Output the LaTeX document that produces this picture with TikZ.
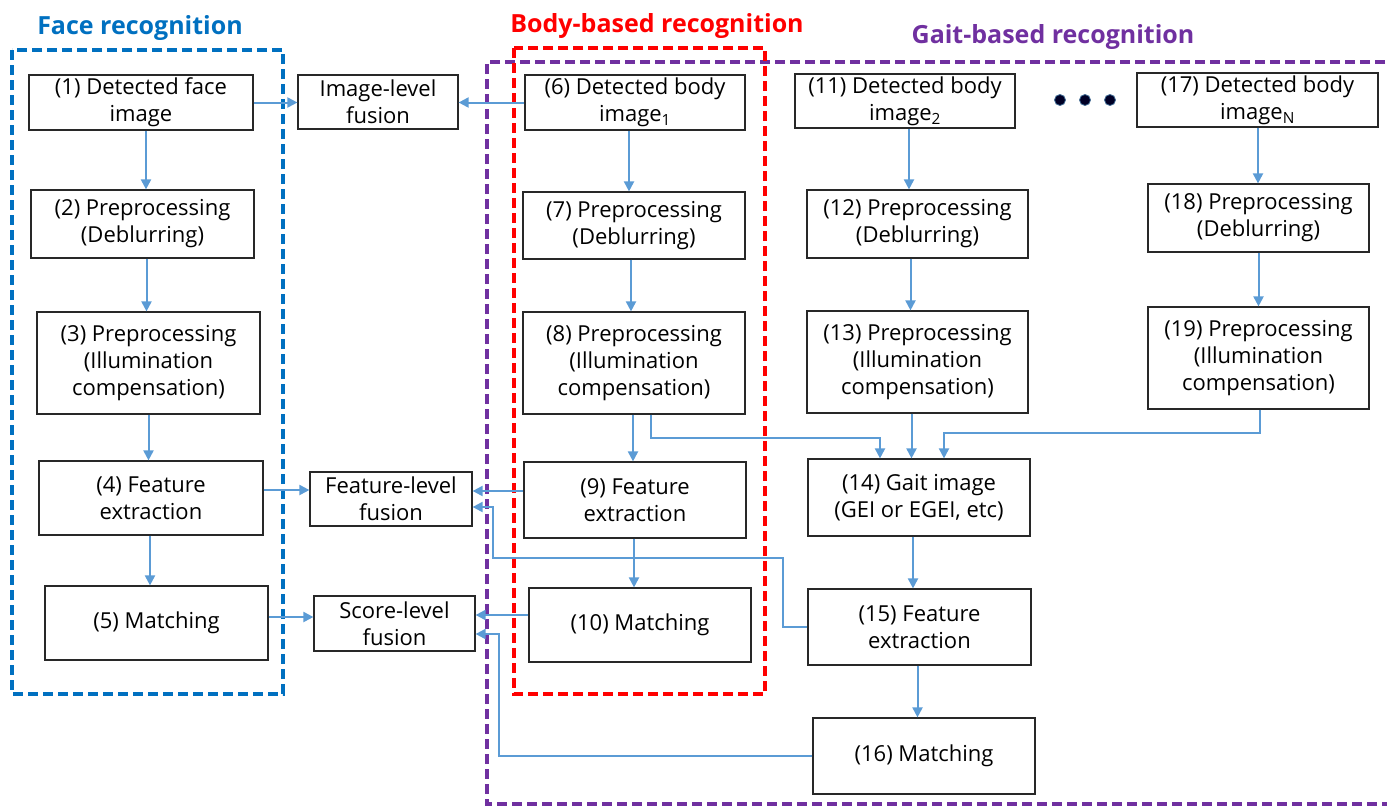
\documentclass[tikz,border=0pt]{standalone}
\usepackage{fontspec}
\setmainfont{Open Sans}
\usetikzlibrary{arrows.meta}
\definecolor{arrc}{RGB}{91,155,213}
\definecolor{facec}{RGB}{0,112,192}
\definecolor{bodyc}{RGB}{255,0,0}
\definecolor{gaitc}{RGB}{112,48,160}
\definecolor{boxc}{RGB}{40,40,40}
\begin{document}
\begin{tikzpicture}[x=1pt,y=-1pt,
  blk/.style={draw=boxc,line width=1.2pt,fill=white,align=center,inner sep=0pt,
    font=\fontsize{22}{27}\selectfont},
  arr/.style={draw=arrc,line width=2pt,-{Triangle[length=10pt,width=10pt]}},
  frame/.style={line width=3.5pt,dash pattern=on 10pt off 5pt},
  ttl/.style={font=\fontsize{25}{30}\selectfont\bfseries}]
\useasboundingbox (0,0) rectangle (1387,807);
% frames
\draw[frame,draw=facec] (12,50) rectangle (283,694);
\draw[frame,draw=gaitc] (1400,62) -- (487,62) -- (487,804) -- (1400,804);
\draw[frame,draw=bodyc] (514,48) rectangle (765,694);
% titles
\node[ttl,text=facec] (tface) at (140,28) {Face recognition};
\node[ttl,text=bodyc] (tbody) at (657,26) {Body-based recognition};
\node[ttl,text=gaitc] (tgait) at (1053,37) {Gait-based recognition};
% boxes
\node[blk,minimum width=224,minimum height=55] (b1) at (141,102.5) {(1) Detected face\\image};
\node[blk,minimum width=160,minimum height=54] (il) at (378,102) {Image-level\\fusion};
\node[blk,minimum width=220,minimum height=55] (b6) at (635,102.5) {(6) Detected body\\image\textsubscript{1}};
\node[blk,minimum width=220,minimum height=54] (b11) at (905,101) {(11) Detected body\\image\textsubscript{2}};
\node[blk,minimum width=241,minimum height=54] (b17) at (1257.5,100) {(17) Detected body\\image\textsubscript{N}};
\node[blk,minimum width=223,minimum height=68] (b2) at (142.5,224) {(2) Preprocessing\\(Deblurring)};
\node[blk,minimum width=222,minimum height=67] (b7) at (634,225.5) {(7) Preprocessing\\(Deblurring)};
\node[blk,minimum width=221,minimum height=68] (b12) at (917.5,224) {(12) Preprocessing\\(Deblurring)};
\node[blk,minimum width=221,minimum height=68] (b18) at (1258.5,218) {(18) Preprocessing\\(Deblurring)};
\node[blk,minimum width=223,minimum height=102] (b3) at (148.5,363) {(3) Preprocessing\\(Illumination\\compensation)};
\node[blk,minimum width=222,minimum height=102] (b8) at (634,363) {(8) Preprocessing\\(Illumination\\compensation)};
\node[blk,minimum width=221,minimum height=102] (b13) at (917.5,362) {(13) Preprocessing\\(Illumination\\compensation)};
\node[blk,minimum width=221,minimum height=102] (b19) at (1258.5,358) {(19) Preprocessing\\(Illumination\\compensation)};
\node[blk,minimum width=224,minimum height=74] (b4) at (151,498) {(4) Feature\\extraction};
\node[blk,minimum width=162,minimum height=54] (fl) at (391,499) {Feature-level\\fusion};
\node[blk,minimum width=222,minimum height=76] (b9) at (635,500) {(9) Feature\\extraction};
\node[blk,minimum width=222,minimum height=77] (b14) at (919,497.5) {(14) Gait image\\(GEI or EGEI, etc)};
\node[blk,minimum width=223,minimum height=74] (b5) at (156.5,623) {(5) Matching};
\node[blk,minimum width=161,minimum height=55] (sl) at (394.5,623.5) {Score-level\\fusion};
\node[blk,minimum width=222,minimum height=74] (b10) at (640,625) {(10) Matching};
\node[blk,minimum width=223,minimum height=76] (b15) at (919.5,627) {(15) Feature\\extraction};
\node[blk,minimum width=222,minimum height=76] (b16) at (924,756) {(16) Matching};
% dots
\foreach \i/\xx in {1/1060,2/1085,3/1110}
  \node[circle,fill=black!85!blue,draw=arrc!70!black,line width=0.8pt,inner sep=0pt,minimum size=11pt] (dot\i) at (\xx,100) {};
% arrows
\draw[arr] ([xshift=5pt]b1.south) -- ([xshift=5pt]b1.south |- b2.north);
\draw[arr] (b1.east) -- (b1.east -| il.west);
\draw[arr] (b6.west) -- (b6.west -| il.east);
\draw[arr] ([xshift=4pt]b2.south) -- ([xshift=4pt]b2.south |- b3.north);
\draw[arr] (b3.south) -- (b3.south |- b4.north);
\draw[arr] ([xshift=-1pt]b4.south) -- ([xshift=-1pt]b4.south |- b5.north);
\draw[arr] ([yshift=8pt]b4.east) -- ([yshift=9pt]fl.west);
\draw[arr] ([yshift=6pt]b5.east) -- ([yshift=6.5pt]sl.west);
\draw[arr] ([xshift=-6pt]b6.south) -- ([xshift=-6pt]b6.south |- b7.north);
\draw[arr] ([xshift=-3pt]b7.south) -- ([xshift=-3pt]b7.south |- b8.north);
\draw[arr] ([xshift=-1pt]b8.south) -- ([xshift=-1pt]b8.south |- b9.north);
\draw[arr] ([xshift=-1pt]b9.south) -- ([xshift=-1pt]b9.south |- b10.north);
\draw[arr] ([yshift=9pt]b9.west) -- ([yshift=8pt]fl.east);
\draw[arr] ([yshift=10pt]b10.west) -- ([yshift=8.5pt]sl.east);
\draw[arr] ([xshift=17pt]b8.south) -- ++(0,23) -| ([xshift=-39pt]b14.north);
\draw[arr] ([xshift=4pt]b11.south) -- ([xshift=4pt]b11.south |- b12.north);
\draw[arr] ([xshift=-7pt]b12.south) -- ([xshift=-7pt]b12.south |- b13.north);
\draw[arr] ([xshift=-6pt]b13.south) -- ([xshift=-6pt]b13.south |- b14.north);
\draw[arr] ([xshift=0.5pt]b17.south) -- ([xshift=0.5pt]b17.south |- b18.north);
\draw[arr] (b18.south) -- (b18.south |- b19.north);
\draw[arr] ([xshift=1.5pt]b19.south) -- ++(0,23) -| ([xshift=25pt]b14.north);
\draw[arr] ([xshift=-6pt]b14.south) -- ([xshift=-6pt]b14.south |- b15.north);
\draw[arr] ([xshift=-2pt]b15.south) -- ([xshift=-2pt]b15.south |- b16.north);
\draw[arr] (b15.west) -- ++(-24,0) |- (493,558) |- ([yshift=-8pt]fl.east);
\draw[arr] (b16.west) -| (499,634) -- ([yshift=-10.5pt]sl.east);
\end{tikzpicture}
\end{document}
